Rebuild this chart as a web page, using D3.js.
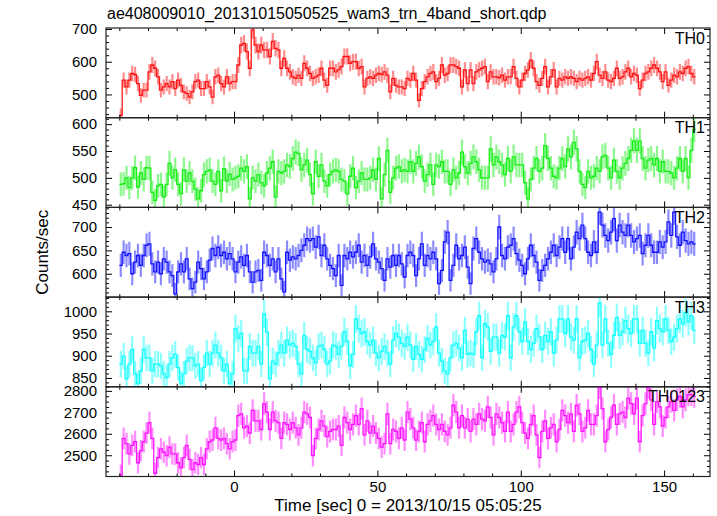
<!DOCTYPE html>
<html><head><meta charset="utf-8">
<script src="https://cdn.jsdelivr.net/npm/d3@7"></script>
<style>body{margin:0;background:#fff}svg{display:block}</style>
</head><body><svg id="c" width="717" height="516"></svg>
<script>
// ---- data (1 s bins, first bin starts at t = -40 s) ----
const binStart = -40, binWidth = 1;
const th0 = [
436,544,523,544,564,561,533,497,513,513,
569,590,580,554,513,523,533,523,539,518,
544,528,508,503,492,508,539,544,518,518,
539,523,492,554,559,533,523,554,533,539,
539,590,651,656,631,580,697,651,631,651,
636,636,616,662,641,636,580,610,580,569,
554,549,559,549,595,580,564,
549,554,559,580,544,528,580,580,569,575,
585,616,616,595,600,600,580,585,523,549,
554,549,559,564,561,569,559,508,549,528,
523,523,518,549,544,564,544,482,518,539,
554,564,569,539,549,590,559,564,590,590,
585,580,523,575,533,575,533,569,575,580,
585,539,569,554,554,551,559,544,554,
554,585,549,523,544,564,575,605,580,539,
528,549,585,523,554,575,523,549,544,554,
549,554,549,539,549,544,549,554,544,564,
600,559,549,569,544,539,549,580,549,554,
569,580,554,564,559,518,544,564,569,580,
590,580,569,539,569,528,544,559,554,569,
564,580,585,564,554];
const th1 = [
488,489,500,482,500,519,483,509,497,519,
518,473,458,485,488,464,488,527,500,515,
488,470,515,494,509,494,479,461,476,506,
512,515,494,488,512,476,517,494,507,497,
500,503,518,512,521,461,500,494,506,491,
485,509,518,530,464,512,509,512,524,521,
536,548,545,515,524,533,506,
470,530,503,524,494,485,506,512,515,512,
497,494,470,503,518,482,494,509,497,497,
500,515,497,536,461,506,551,473,500,518,
521,512,515,512,530,512,527,539,521,494,
506,524,488,524,521,530,512,512,488,515,
500,509,548,521,509,527,539,530,515,500,
500,500,554,524,539,530,524,506,536,
512,539,524,524,524,491,461,497,518,536,
512,518,560,536,518,503,500,518,536,521,
554,539,566,554,512,488,482,512,500,503,
518,512,539,542,518,500,533,512,500,518,
527,536,551,569,551,569,536,518,533,536,
524,536,512,530,512,512,509,500,518,536,
512,536,500,551,590];
const th2 = [
618,646,639,643,600,625,639,618,639,661,
664,621,604,625,600,632,625,604,596,557,
604,621,604,632,589,568,582,625,611,589,
604,629,654,639,657,639,646,632,643,632,
604,625,636,618,639,604,582,604,607,586,
646,639,618,632,604,632,589,561,646,629,
636,632,639,650,661,675,671,
675,657,679,639,661,632,618,611,596,639,
575,639,632,646,636,646,661,625,639,618,
636,664,632,625,611,586,632,614,639,618,
639,621,593,639,646,639,596,632,664,618,
639,632,646,632,579,607,668,689,586,618,
661,632,639,657,614,579,654,675,646,632,
625,629,621,604,632,700,639,632,657,
661,675,643,629,618,600,632,661,639,625,
586,607,618,632,646,661,639,657,675,646,
675,632,657,689,675,704,675,646,639,668,
646,732,704,682,671,689,718,671,704,689,
682,704,682,668,675,682,643,661,682,661,
646,646,668,657,668,711,682,732,679,661,
689,671,664,668,664];
const th3 = [
881,899,848,881,914,859,837,866,914,895,
895,866,881,881,877,859,851,881,895,903,
873,837,859,888,895,895,877,881,844,873,
906,881,906,924,906,895,866,881,837,859,
961,939,950,866,866,921,906,906,921,881,
994,953,848,888,881,906,924,906,935,924,
928,921,881,859,946,914,910,
895,884,921,924,914,881,888,924,921,903,
921,954,932,877,903,983,961,950,954,932,
924,935,906,895,910,921,906,881,935,950,
942,928,921,942,924,892,921,903,892,914,
939,924,932,965,906,888,866,859,895,924,
928,917,895,957,903,906,903,954,990,895,
972,965,910,942,942,906,946,942,990,
895,965,990,954,932,976,932,914,928,961,
942,914,946,932,954,906,935,983,983,950,
983,942,935,983,895,932,935,950,914,881,
924,1019,924,983,928,903,946,986,946,954,
979,961,950,983,983,928,957,928,906,954,
917,979,961,954,983,957,932,942,961,983,
972,997,976,990,957];
const th0123 = [
2408,2579,2554,2506,2546,2563,2465,2522,2563,2603,
2652,2579,2416,2489,2530,2514,2498,2538,2506,2506,
2465,2441,2489,2546,2481,2433,2465,2457,2489,2457,
2530,2563,2571,2628,2579,2571,2579,2554,2530,2563,
2571,2685,2693,2628,2636,2603,2709,2660,2660,2620,
2741,2701,2620,2701,2660,2652,2579,2652,2644,2620,
2652,2628,2595,2628,2701,2693,2676,
2498,2579,2620,2660,2636,2587,2611,2620,2620,2636,
2546,2676,2652,2620,2644,2685,2644,2717,2595,2660,
2603,2636,2603,2579,2538,2554,2693,2554,2620,2611,
2579,2628,2571,2701,2668,2628,2571,2611,2652,2563,
2644,2660,2685,2644,2620,2644,2611,2595,2628,2733,
2701,2628,2685,2628,2668,2611,2668,2644,2693,2668,
2660,2725,2676,2595,2693,2676,2652,2611,2701,
2611,2644,2701,2725,2652,2603,2579,2644,2685,2595,
2489,2611,2660,2579,2628,2644,2563,2620,2709,2685,
2652,2693,2611,2733,2693,2611,2628,2709,2644,2644,
2685,2815,2717,2563,2620,2676,2733,2644,2693,2701,
2676,2766,2741,2693,2766,2563,2685,2741,2815,2758,
2644,2750,2725,2636,2676,2725,2750,2709,2758,2774,
2725,2758,2782,2782,2774];

const panelNames = ["TH0","TH1","TH2","TH3","TH0123"];
const panelColors = ["#ff0000","#00ee00","#0000ff","#00ffff","#ff00ff"];
const yDomains = [[429,703],[445,612],[550,742],[830,1032],[2401,2819]];
const yMajorTicks = [[500,600,700],[450,500,550,600],[600,650,700],[850,900,950,1000],[2500,2600,2700,2800]];
const yMinorStep = [20,10,10,10,25];
const xMajorTicks = [0,50,100,150];
const xMinorStep = 10;
const xDomain = [-44.65,166.0];
const titleText = "ae408009010_20131015050525_wam3_trn_4band_short.qdp";
const xLabel = "Time [sec] 0 = 2013/10/15 05:05:25";
const yLabel = "Counts/sec";

// ---- layout ----
const L = 106, R = 710, T = 28, PH = 89.7;
const FONT = "'Liberation Sans', Arial, Helvetica, sans-serif";
const svg = d3.select("#c");
const x = d3.scaleLinear().domain(xDomain).range([L, R]);
const seriesList = [th0, th1, th2, th3, th0123];
const fmt = d3.format("d");

const xMinor = d3.range(-40, 170, xMinorStep).filter(v => !xMajorTicks.includes(v));

function styleAxis(g, labels){
  g.select(".domain").remove();
  g.selectAll(".tick line").attr("stroke", "#000").attr("stroke-width", 1);
  g.attr("font-family", FONT).attr("font-size", 15);
  g.selectAll(".tick text").attr("fill", "#000");
  if (!labels) g.selectAll(".tick text").remove();
}

seriesList.forEach((vals, i) => {
  const y0 = T + i * PH, y1 = y0 + PH;
  const y = d3.scaleLinear().domain(yDomains[i]).range([y1, y0]);
  const col = panelColors[i];
  const clipId = "clip" + i;
  svg.append("clipPath").attr("id", clipId).append("rect")
    .attr("x", L).attr("y", y0).attr("width", R - L).attr("height", PH);
  const g = svg.append("g").attr("clip-path", `url(#${clipId})`);
  const pts = vals.map((v, k) => ({t: binStart + k * binWidth, v}));

  g.selectAll("line.err").data(pts).join("line").attr("class", "err")
    .attr("x1", d => x(d.t + binWidth / 2)).attr("x2", d => x(d.t + binWidth / 2))
    .attr("y1", d => y(d.v - Math.sqrt(d.v))).attr("y2", d => y(d.v + Math.sqrt(d.v)))
    .attr("stroke", col).attr("stroke-opacity", 0.45).attr("stroke-width", 2.2);

  const last = pts[pts.length - 1];
  const stepPts = pts.concat([{t: last.t + binWidth, v: last.v}]);
  const line = d3.line().x(d => x(d.t)).y(d => y(d.v)).curve(d3.curveStepAfter);
  g.append("path").datum(stepPts).attr("d", line)
    .attr("fill", "none").attr("stroke", col).attr("stroke-width", 1.3).attr("stroke-opacity", 0.9);

  // y axes
  const yMinorVals = d3.range(Math.ceil(yDomains[i][0] / yMinorStep[i]) * yMinorStep[i], yDomains[i][1], yMinorStep[i])
    .filter(v => !yMajorTicks[i].includes(v));
  const gl = svg.append("g").attr("transform", `translate(${L},0)`)
    .call(d3.axisLeft(y).tickValues(yMajorTicks[i]).tickSize(-6).tickPadding(9).tickFormat(fmt));
  styleAxis(gl, true);
  const glm = svg.append("g").attr("transform", `translate(${L},0)`)
    .call(d3.axisLeft(y).tickValues(yMinorVals).tickSize(-3).tickFormat(""));
  styleAxis(glm, false);
  const gr = svg.append("g").attr("transform", `translate(${R},0)`)
    .call(d3.axisRight(y).tickValues(yMajorTicks[i]).tickSize(-6).tickFormat(""));
  styleAxis(gr, false);
  const grm = svg.append("g").attr("transform", `translate(${R},0)`)
    .call(d3.axisRight(y).tickValues(yMinorVals).tickSize(-3).tickFormat(""));
  styleAxis(grm, false);

  // x axes (top and bottom of each panel)
  const gt = svg.append("g").attr("transform", `translate(0,${y0})`)
    .call(d3.axisTop(x).tickValues(xMajorTicks).tickSize(-6).tickFormat(""));
  styleAxis(gt, false);
  const gtm = svg.append("g").attr("transform", `translate(0,${y0})`)
    .call(d3.axisTop(x).tickValues(xMinor).tickSize(-3).tickFormat(""));
  styleAxis(gtm, false);
  const isLast = i === seriesList.length - 1;
  const gb = svg.append("g").attr("transform", `translate(0,${y1})`)
    .call(d3.axisBottom(x).tickValues(xMajorTicks).tickSize(-6).tickPadding(5).tickFormat(fmt));
  styleAxis(gb, isLast);
  const gbm = svg.append("g").attr("transform", `translate(0,${y1})`)
    .call(d3.axisBottom(x).tickValues(xMinor).tickSize(-3).tickFormat(""));
  styleAxis(gbm, false);

  // frame
  svg.append("rect").attr("x", L).attr("y", y0).attr("width", R - L).attr("height", PH)
    .attr("fill", "none").attr("stroke", "#222").attr("stroke-width", 1.2);

  svg.append("text").attr("x", 705).attr("y", y0 + 15.5).attr("text-anchor", "end")
    .attr("font-family", FONT).attr("font-size", 16).text(panelNames[i]);
});

svg.append("text").attr("x", 107).attr("y", 19).attr("font-family", FONT)
  .attr("font-size", 16).text(titleText);
svg.append("text").attr("x", (L + R) / 2).attr("y", 511).attr("text-anchor", "middle")
  .attr("font-family", FONT).attr("font-size", 17).text(xLabel);
svg.append("text").attr("transform", `translate(48,${T + 2.5 * PH}) rotate(-90)`)
  .attr("text-anchor", "middle").attr("font-family", FONT).attr("font-size", 17).text(yLabel);
</script></body></html>
